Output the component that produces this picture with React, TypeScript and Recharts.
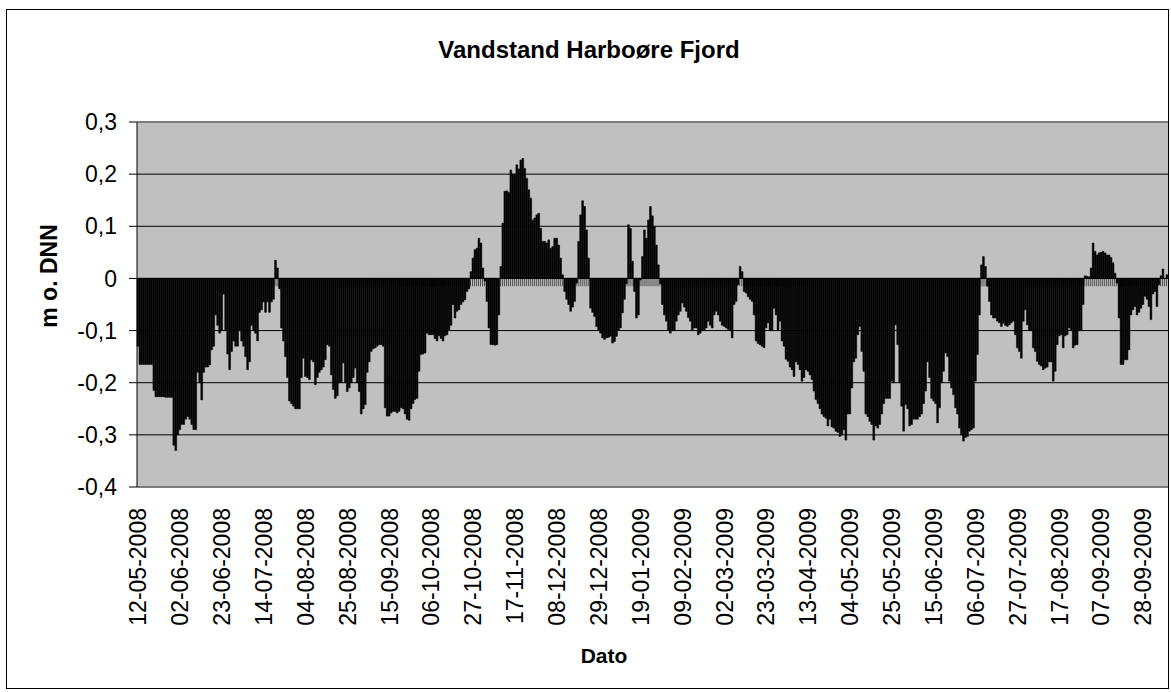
import React from 'react';
import {
  BarChart,
  Bar,
  XAxis,
  YAxis,
  CartesianGrid,
  ReferenceLine,
  ReferenceArea,
} from 'recharts';

const FONT = '"Liberation Sans", Arial, Helvetica, sans-serif';

// daily water level (m o. DNN), one array per month
const may2008 = [-0.13, -0.165, -0.165, -0.165, -0.165, -0.165, -0.165, -0.165, -0.215, -0.227, -0.227, -0.227, -0.227, -0.227, -0.228, -0.228, -0.228, -0.228, -0.32, -0.33];
const jun2008 = [-0.3, -0.29, -0.28, -0.28, -0.27, -0.265, -0.27, -0.28, -0.29, -0.29, -0.18, -0.2, -0.233, -0.18, -0.17, -0.17, -0.166, -0.137, -0.13, -0.07, -0.09, -0.105, -0.1, -0.03, -0.1, -0.145, -0.175, -0.14, -0.12, -0.13];
const jul2008 = [-0.13, -0.1, -0.12, -0.13, -0.15, -0.175, -0.16, -0.09, -0.1, -0.105, -0.12, -0.065, -0.06, -0.045, -0.065, -0.045, -0.065, -0.045, -0.04, 0.035, 0.02, -0.02, -0.095, -0.12, -0.15, -0.19, -0.235, -0.24, -0.245, -0.25, -0.25];
const aug2008 = [-0.25, -0.19, -0.153, -0.188, -0.19, -0.194, -0.156, -0.16, -0.204, -0.19, -0.18, -0.175, -0.17, -0.156, -0.127, -0.13, -0.185, -0.213, -0.23, -0.225, -0.2, -0.2, -0.162, -0.2, -0.217, -0.21, -0.2, -0.19, -0.172, -0.2, -0.217];
const sep2008 = [-0.26, -0.25, -0.242, -0.18, -0.16, -0.14, -0.135, -0.133, -0.13, -0.127, -0.127, -0.13, -0.248, -0.264, -0.264, -0.258, -0.255, -0.255, -0.258, -0.255, -0.248, -0.25, -0.26, -0.27, -0.272, -0.25, -0.24, -0.232, -0.23, -0.178];
const oct2008 = [-0.146, -0.145, -0.143, -0.105, -0.108, -0.108, -0.108, -0.115, -0.12, -0.11, -0.115, -0.12, -0.11, -0.108, -0.098, -0.09, -0.05, -0.076, -0.063, -0.06, -0.05, -0.045, -0.041, -0.025, -0.02, 0.013, 0.039, 0.055, 0.058, 0.077, 0.068];
const nov2008 = [0.02, -0.005, -0.044, -0.095, -0.127, -0.127, -0.128, -0.127, -0.07, 0.023, 0.106, 0.167, 0.168, 0.165, 0.208, 0.2, 0.2, 0.218, 0.21, 0.227, 0.23, 0.211, 0.192, 0.17, 0.154, 0.112, 0.116, 0.122, 0.125, 0.096];
const dec2008 = [0.071, 0.071, 0.068, 0.074, 0.058, 0.061, 0.077, 0.077, 0.064, 0.039, 0.007, -0.025, -0.04, -0.05, -0.063, -0.055, -0.044, -0.009, 0.071, 0.122, 0.149, 0.138, 0.093, 0.039, -0.057, -0.065, -0.073, -0.092, -0.1, -0.105, -0.114];
const jan2009 = [-0.117, -0.114, -0.113, -0.111, -0.124, -0.121, -0.111, -0.1, -0.095, -0.066, -0.04, -0.01, 0.103, 0.096, 0.033, -0.025, -0.076, -0.07, -0.003, 0.042, 0.093, 0.077, 0.112, 0.138, 0.12, 0.1, 0.064, 0.026, -0.01, -0.05, -0.07];
const feb2009 = [-0.082, -0.1, -0.105, -0.1, -0.1, -0.082, -0.07, -0.063, -0.047, -0.055, -0.063, -0.075, -0.082, -0.1, -0.095, -0.095, -0.108, -0.105, -0.1, -0.1, -0.095, -0.082, -0.09, -0.095, -0.07, -0.063, -0.07, -0.082];
const mar2009 = [-0.09, -0.092, -0.095, -0.098, -0.1, -0.114, -0.05, -0.044, -0.012, 0.023, 0.013, -0.025, -0.028, -0.035, -0.04, -0.044, -0.07, -0.12, -0.125, -0.127, -0.13, -0.133, -0.095, -0.085, -0.1, -0.1, -0.057, -0.07, -0.1, -0.082, -0.12];
const apr2009 = [-0.13, -0.155, -0.159, -0.17, -0.175, -0.188, -0.16, -0.165, -0.175, -0.197, -0.19, -0.175, -0.178, -0.185, -0.194, -0.216, -0.232, -0.24, -0.25, -0.26, -0.265, -0.268, -0.283, -0.27, -0.285, -0.287, -0.293, -0.295, -0.303, -0.3];
const may2009 = [-0.29, -0.31, -0.26, -0.26, -0.21, -0.16, -0.153, -0.108, -0.092, -0.14, -0.178, -0.26, -0.265, -0.274, -0.28, -0.31, -0.283, -0.287, -0.28, -0.26, -0.24, -0.23, -0.23, -0.23, -0.197, -0.2, -0.089, -0.127, -0.2, -0.245, -0.293];
const jun2009 = [-0.242, -0.25, -0.283, -0.28, -0.27, -0.27, -0.27, -0.265, -0.26, -0.24, -0.216, -0.16, -0.19, -0.23, -0.235, -0.24, -0.277, -0.248, -0.2, -0.178, -0.143, -0.15, -0.197, -0.21, -0.223, -0.248, -0.26, -0.287, -0.3, -0.312];
const jul2009 = [-0.305, -0.303, -0.293, -0.29, -0.287, -0.197, -0.146, -0.07, 0.026, 0.042, 0.023, -0.015, -0.044, -0.07, -0.076, -0.076, -0.082, -0.085, -0.092, -0.086, -0.09, -0.092, -0.089, -0.085, -0.082, -0.108, -0.133, -0.14, -0.153, -0.082, -0.06];
const aug2009 = [-0.089, -0.1, -0.1, -0.133, -0.14, -0.159, -0.165, -0.168, -0.175, -0.172, -0.17, -0.16, -0.16, -0.197, -0.178, -0.127, -0.11, -0.108, -0.133, -0.11, -0.108, -0.095, -0.1, -0.133, -0.128, -0.127, -0.1, -0.1, -0.05, 0.005, 0.004];
const sep2009 = [0.003, 0.02, 0.068, 0.052, 0.045, 0.049, 0.05, 0.052, 0.049, 0.045, 0.045, 0.04, 0.03, 0.01, -0.009, -0.076, -0.165, -0.165, -0.156, -0.156, -0.137, -0.07, -0.06, -0.054, -0.07, -0.065, -0.057, -0.05, -0.034, -0.04];
const oct2009 = [-0.054, -0.079, -0.03, -0.025, -0.054, -0.012, 0.005, 0.018, 0, 0.007];

const FIRST_DAY = Date.UTC(2008, 4, 12);

const TICK_LABELS = [
  '12-05-2008', '02-06-2008', '23-06-2008', '14-07-2008', '04-08-2008',
  '25-08-2008', '15-09-2008', '06-10-2008', '27-10-2008', '17-11-2008',
  '08-12-2008', '29-12-2008', '19-01-2009', '09-02-2009', '02-03-2009',
  '23-03-2009', '13-04-2009', '04-05-2009', '25-05-2009', '15-06-2009',
  '06-07-2009', '27-07-2009', '17-08-2009', '07-09-2009', '28-09-2009',
];

const Y_TICKS = [-0.4, -0.3, -0.2, -0.1, 0, 0.1, 0.2, 0.3];

const levels = [
  ...may2008, ...jun2008, ...jul2008, ...aug2008, ...sep2008, ...oct2008,
  ...nov2008, ...dec2008, ...jan2009, ...feb2009, ...mar2009, ...apr2009,
  ...may2009, ...jun2009, ...jul2009, ...aug2009, ...sep2009, ...oct2009,
];

const pad = (n: number) => (n < 10 ? '0' + n : '' + n);

const data = levels.map((level, i) => {
  const d = new Date(FIRST_DAY + i * 86400000);
  return {
    date: `${pad(d.getUTCDate())}-${pad(d.getUTCMonth() + 1)}-${d.getUTCFullYear()}`,
    level,
  };
});

const fmt = (v: number) => (v === 0 ? '0' : v.toFixed(1).replace('.', ','));

const DateTick = ({ x, y, payload }: any) => (
  <text
    x={x}
    y={y}
    transform={`rotate(-90, ${x}, ${y})`}
    textAnchor="end"
    dy="0.36em"
    fontSize={23}
    fontFamily={FONT}
    fill="#000"
  >
    {payload.value}
  </text>
);

const PLOT_LEFT = 137;
const PLOT_WIDTH = 1031;

export default function App() {
  return (
    <div style={{ position: 'absolute', left: 0, top: 0, width: 1171, height: 692, background: '#fff', fontFamily: FONT }}>
      <BarChart
        width={1171}
        height={692}
        data={data}
        margin={{ top: 122, right: 3, left: 37, bottom: 55 }}
      >
        <defs>
          <pattern
            id="zeroTicks"
            patternUnits="userSpaceOnUse"
            x={PLOT_LEFT}
            y={0}
            width={PLOT_WIDTH / data.length}
            height={40}
          >
            <rect x={0} y={0} width={0.8} height={40} fill="#333" />
          </pattern>
        </defs>
        <CartesianGrid vertical={false} stroke="#000" fill="#C0C0C0" fillOpacity={1} />
        <XAxis
          dataKey="date"
          ticks={TICK_LABELS}
          interval={0}
          axisLine={false}
          tickLine={false}
          tickSize={6}
          tickMargin={15}
          height={150}
          tick={<DateTick />}
        />
        <YAxis
          domain={[-0.4, 0.3]}
          ticks={Y_TICKS}
          interval={0}
          width={100}
          tickFormatter={fmt}
          tickSize={8}
          tickMargin={12}
          axisLine={{ stroke: '#000' }}
          tickLine={{ stroke: '#000' }}
          tick={{ fill: '#000', fontSize: 23, fontFamily: FONT }}
        />
        <ReferenceLine y={0.3} stroke="#808080" strokeWidth={1.5} />
        <ReferenceLine y={-0.4} stroke="#808080" strokeWidth={1.5} />
        <ReferenceArea y1={-0.015} y2={0} fill="url(#zeroTicks)" fillOpacity={1} stroke="none" />
        <Bar
          dataKey="level"
          fill="#000"
          stroke="#000"
          strokeWidth={0.5}
          barSize={1.8}
          isAnimationActive={false}
        />
        <ReferenceLine y={0} stroke="#000" strokeWidth={1} />
      </BarChart>

      <div
        style={{
          position: 'absolute',
          left: 6,
          top: 9,
          width: 1163,
          height: 680,
          border: '1px solid #000',
          boxSizing: 'border-box',
          pointerEvents: 'none',
        }}
      />
      <div
        style={{
          position: 'absolute',
          left: 589,
          top: 50,
          transform: 'translate(-50%, -50%)',
          fontSize: 24,
          fontWeight: 'bold',
          whiteSpace: 'nowrap',
          color: '#000',
        }}
      >
        Vandstand Harboøre Fjord
      </div>
      <div
        style={{
          position: 'absolute',
          left: 604,
          top: 656,
          transform: 'translate(-50%, -50%)',
          fontSize: 21,
          fontWeight: 'bold',
          whiteSpace: 'nowrap',
          color: '#000',
        }}
      >
        Dato
      </div>
      <div
        style={{
          position: 'absolute',
          left: 49,
          top: 276,
          transform: 'translate(-50%, -50%) rotate(-90deg)',
          fontSize: 23,
          fontWeight: 'bold',
          whiteSpace: 'nowrap',
          color: '#000',
        }}
      >
        m o. DNN
      </div>
    </div>
  );
}
